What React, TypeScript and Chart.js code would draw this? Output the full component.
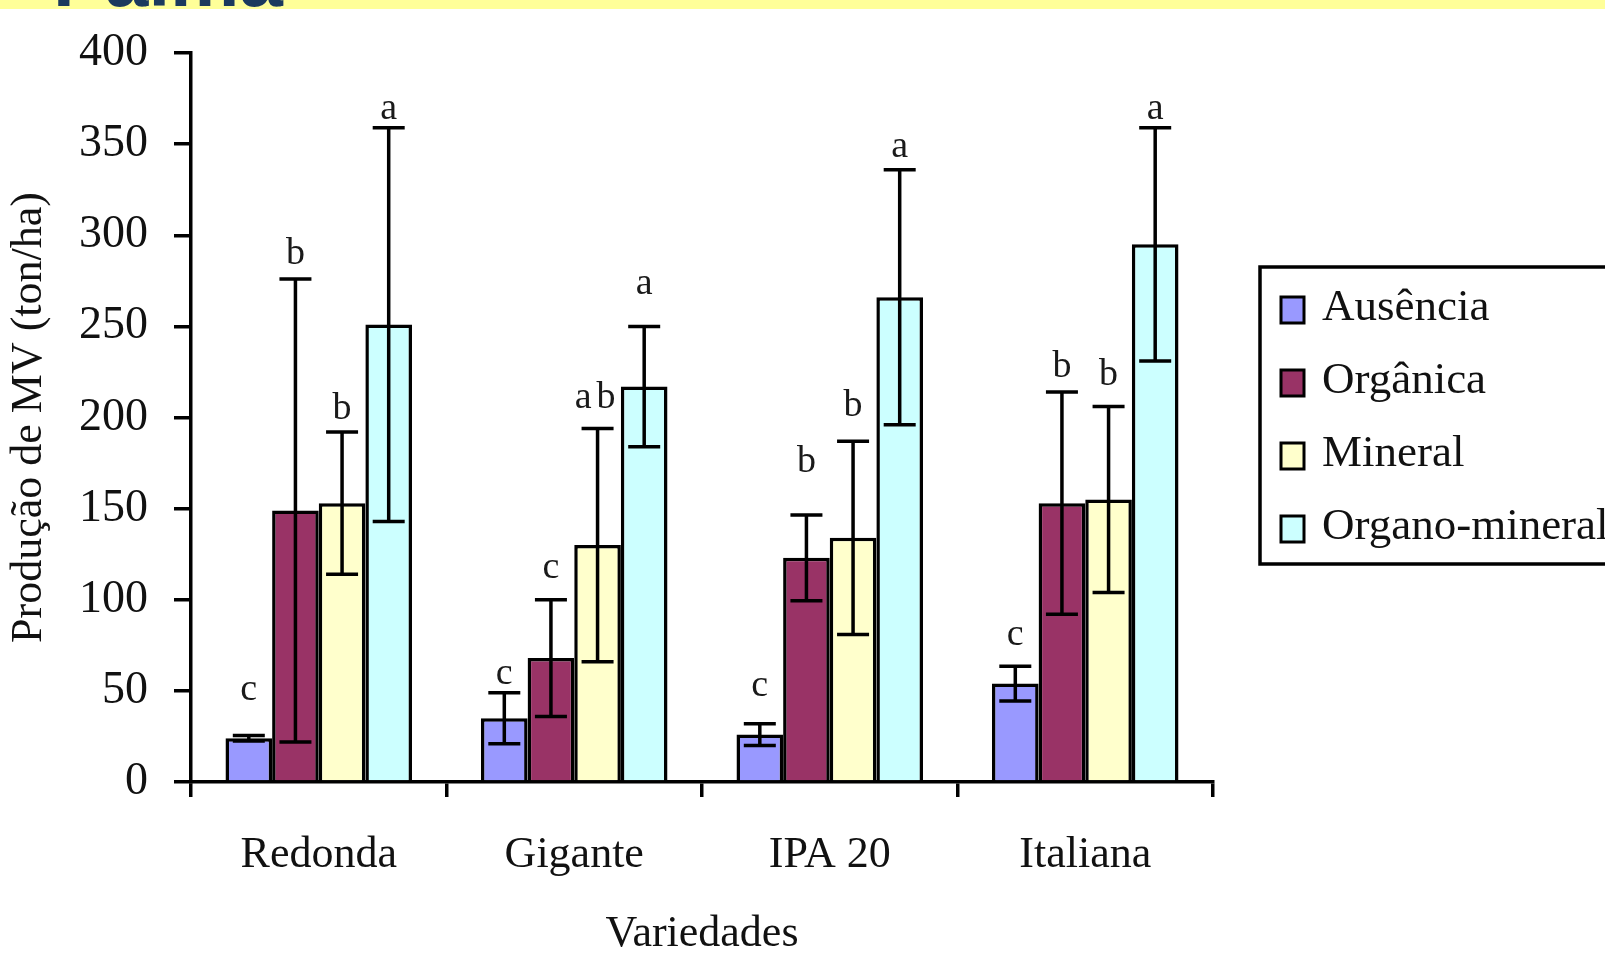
import React, { useEffect, useRef } from "react";
import { Chart, registerables } from "chart.js";

Chart.register(...registerables);

const categories = ["Redonda", "Gigante", "IPA 20", "Italiana"];
const seriesNames = ["Ausência", "Orgânica", "Mineral", "Organo-mineral"];
const seriesColors = ["#9999FF", "#993366", "#FFFFCC", "#CCFFFF"];

const ausencia = [24, 35, 26, 54];
const organica = [149, 68, 123, 153];
const mineral = [153, 130, 134, 155];
const organoMineral = [251, 217, 266, 295];

const ausenciaErr = [1.5, 14, 6, 9.5];
const organicaErr = [127, 32, 23.5, 61];
const mineralErr = [39, 64, 53, 51];
const organoMineralErr = [108, 33, 70, 64];

const ausenciaLetters = ["c", "c", "c", "c"];
const organicaLetters = ["b", "c", "b", "b"];
const mineralLetters = ["b", "ab", "b", "b"];
const organoMineralLetters = ["a", "a", "a", "a"];

// level (in axis units) at which each significance letter sits
const ausenciaLetterLevel = [45, 54, 47, 75];
const organicaLetterLevel = [284, 112, 170, 222];
const mineralLetterLevel = [199, 205, 201, 218];
const organoMineralLetterLevel = [364, 268, 343, 364];

const yTicks = [0, 50, 100, 150, 200, 250, 300, 350, 400];

const values = [ausencia, organica, mineral, organoMineral];
const errors = [ausenciaErr, organicaErr, mineralErr, organoMineralErr];
const letters = [ausenciaLetters, organicaLetters, mineralLetters, organoMineralLetters];
const letterLevels = [ausenciaLetterLevel, organicaLetterLevel, mineralLetterLevel, organoMineralLetterLevel];

const SERIF = "'Liberation Serif', 'Times New Roman', serif";

const backgroundPlugin = {
  id: "bgBanner",
  beforeDraw(chart: any) {
    const ctx = chart.ctx;
    ctx.save();
    ctx.fillStyle = "#FFFFFF";
    ctx.fillRect(0, 0, chart.width, chart.height);
    ctx.fillStyle = "#FFFF99";
    ctx.fillRect(0, 0, chart.width, 9);
    ctx.beginPath();
    ctx.rect(0, 0, chart.width, 9);
    ctx.clip();
    ctx.fillStyle = "#1B3A5E";
    ctx.font = "bold 78px 'Liberation Sans', Arial, sans-serif";
    ctx.textAlign = "left";
    ctx.textBaseline = "alphabetic";
    ctx.fillText("Palma", 53, 6);
    ctx.restore();
  },
};

const errorPlugin = {
  id: "errorBars",
  afterDatasetsDraw(chart: any) {
    const ctx = chart.ctx;
    const y = chart.scales.y;
    ctx.save();
    ctx.strokeStyle = "#000";
    ctx.lineWidth = 3.5;
    chart.data.datasets.forEach((_ds: any, di: number) => {
      const meta = chart.getDatasetMeta(di);
      meta.data.forEach((bar: any, i: number) => {
        const v = values[di][i];
        const e = errors[di][i];
        const top = y.getPixelForValue(v + e);
        const bot = y.getPixelForValue(Math.max(v - e, 0));
        const x = bar.x;
        const cap = 16;
        ctx.beginPath();
        ctx.moveTo(x, top);
        ctx.lineTo(x, bot);
        ctx.moveTo(x - cap, top);
        ctx.lineTo(x + cap, top);
        ctx.moveTo(x - cap, bot);
        ctx.lineTo(x + cap, bot);
        ctx.stroke();
        ctx.fillStyle = "#1a1a1a";
        ctx.font = `38px ${SERIF}`;
        ctx.textAlign = "center";
        ctx.textBaseline = "alphabetic";
        const t = letters[di][i];
        const ly = y.getPixelForValue(letterLevels[di][i]);
        (ctx as any).letterSpacing = t.length > 1 ? "5px" : "0px";
        ctx.fillText(t, x, ly);
      });
    });
    (ctx as any).letterSpacing = "0px";
    ctx.restore();
  },
};

const legendPlugin = {
  id: "boxLegend",
  afterDraw(chart: any) {
    const ctx = chart.ctx;
    const area = chart.chartArea;
    const left = area.right + 47;
    const top = 267;
    const bottom = 564;
    ctx.save();
    ctx.strokeStyle = "#000";
    ctx.lineWidth = 3.5;
    ctx.strokeRect(left, top, chart.width + 40 - left, bottom - top);
    const rowStart = 310;
    const rowGap = 73;
    seriesNames.forEach((name, i) => {
      const cy = rowStart + i * rowGap;
      ctx.fillStyle = seriesColors[i];
      ctx.fillRect(left + 21, cy - 13, 23, 26);
      ctx.lineWidth = 3;
      ctx.strokeStyle = "#000";
      ctx.strokeRect(left + 21, cy - 13, 23, 26);
      ctx.fillStyle = "#111";
      ctx.font = `45px ${SERIF}`;
      ctx.textAlign = "left";
      ctx.textBaseline = "alphabetic";
      ctx.fillText(name, left + 62, cy + 10);
    });
    ctx.restore();
  },
};

export default function App() {
  const ref = useRef<HTMLCanvasElement | null>(null);

  useEffect(() => {
    if (!ref.current) return;
    const chart = new Chart(ref.current, {
      type: "bar",
      data: {
        labels: categories,
        datasets: values.map((vals, i) => ({
          label: seriesNames[i],
          data: vals,
          backgroundColor: seriesColors[i],
          borderColor: "#000",
          borderWidth: 3.5,
          borderSkipped: "bottom",
          categoryPercentage: 0.73,
          barPercentage: 1.0,
        })),
      },
      options: {
        responsive: false,
        animation: false,
        devicePixelRatio: 1,
        events: [],
        layout: { padding: { left: 0, right: 392, top: 53, bottom: 0 } },
        plugins: {
          legend: { display: false },
          tooltip: { enabled: false },
        },
        scales: {
          x: {
            offset: true,
            grid: {
              display: true,
              drawOnChartArea: false,
              drawTicks: true,
              tickLength: 15,
              color: "#000",
              lineWidth: 3.5,
              offset: true,
            },
            border: { display: true, color: "#000", width: 3.5 },
            ticks: {
              font: { family: SERIF, size: 44 },
              color: "#111",
              padding: 32,
              maxRotation: 0,
              autoSkip: false,
            },
            title: {
              display: true,
              text: "Variedades",
              font: { family: SERIF, size: 44, lineHeight: 1.2 },
              color: "#111",
              padding: { top: 0, bottom: 3 },
            },
            afterFit: (s: any) => {
              s.height = 182;
              s.paddingLeft = 0;
              s.paddingRight = 0;
            },
          },
          y: {
            min: 0,
            max: 400,
            afterBuildTicks: (s: any) => {
              s.ticks = yTicks.map((v) => ({ value: v }));
            },
            grid: {
              display: true,
              drawOnChartArea: false,
              drawTicks: true,
              tickLength: 17,
              color: "#000",
              lineWidth: 3.5,
            },
            border: { display: true, color: "#000", width: 3.5 },
            ticks: {
              font: { family: SERIF, size: 46 },
              color: "#111",
              padding: 26,
            },
            title: {
              display: true,
              text: "Produção de MV (ton/ha)",
              font: { family: SERIF, size: 44, lineHeight: 1.2 },
              color: "#111",
              padding: { top: 3, bottom: 0 },
            },
            afterFit: (s: any) => {
              s.width = 191;
              s.paddingTop = 0;
              s.paddingBottom = 0;
            },
          },
        },
      } as any,
      plugins: [backgroundPlugin, errorPlugin, legendPlugin],
    });
    return () => chart.destroy();
  }, []);

  return (
    <div style={{ position: "absolute", left: 0, top: 0, width: 1605, height: 964, background: "#fff" }}>
      <canvas ref={ref} width={1605} height={964} style={{ display: "block", width: 1605, height: 964 }} />
    </div>
  );
}
